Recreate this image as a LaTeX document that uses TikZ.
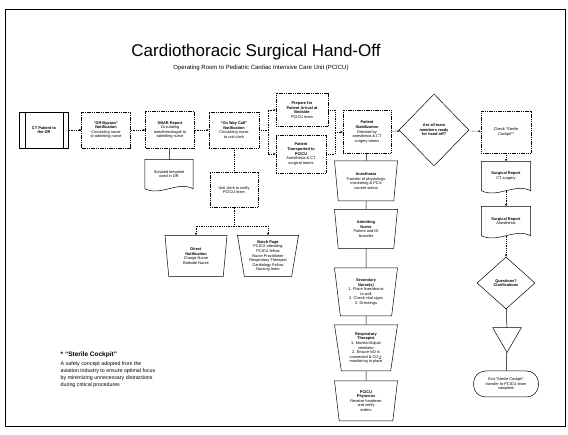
\documentclass[tikz,border=0pt]{standalone}
\usepackage{fontspec}
\setmainfont{Liberation Sans}
\usetikzlibrary{shapes.geometric,arrows.meta}
\begin{document}
\begin{tikzpicture}[x=1pt,y=-1pt,
    every node/.style={font=\fontsize{3.9}{4.6}\selectfont,align=center,inner sep=0.5pt},
    box/.style={draw,line width=0.5pt,dash pattern=on 1.2pt off 0.6pt,minimum width=49pt,minimum height=36pt},
    plainbox/.style={draw,line width=0.5pt,minimum width=49pt,minimum height=36pt},
    docbox/.style={minimum width=48pt,minimum height=29pt},
    manual/.style={draw,line width=0.5pt,trapezium,trapezium left angle=102,trapezium right angle=102,
        trapezium stretches body,minimum width=63pt,minimum height=40pt},
    decision/.style={draw,line width=0.5pt,diamond,inner sep=0pt},
    flow/.style={line width=0.4pt,dash pattern=on 1pt off 0.8pt,-{Stealth[length=2.5pt,width=2.2pt]}},
    dotline/.style={line width=0.4pt,dash pattern=on 1pt off 0.8pt},
    link/.style={line width=0.5pt}]
\useasboundingbox (0,0) rectangle (568,435);
\draw[line width=0.9pt] (5,9) rectangle (565,426);

% title
\node (title) at (256,52) {\fontsize{17}{19}\selectfont Cardiothoracic Surgical Hand-Off};
\node (subtitle) at (261,68) {\fontsize{6}{7}\selectfont Operating Room to Pediatric Cardiac Intensive Care Unit (PCICU)};

% OR side
\node[plainbox] (ct) at (44,130) {\textbf{CT Patient to}\\\textbf{the OR}};
\draw[line width=0.5pt] ([xshift=6pt]ct.north west) -- ([xshift=6pt]ct.south west)
    ([xshift=-6pt]ct.north east) -- ([xshift=-6pt]ct.south east);
\node[box] (offbyp) at (106,130) {\textbf{``Off Bypass''}\\\textbf{Notification}\\Circulating nurse\\to admitting nurse};
\node[box,minimum height=37pt] (sbar) at (170,130) {\textbf{SBAR Report}\\Circulating\\anesthesiologist to\\admitting nurse};
\node[docbox] (script) at (169,174) {Scripted template\\used in OR};
\node[box,minimum width=50pt] (tenmin) at (234,130) {\textbf{``On Way Call''}\\\textbf{Notification}\\Circulating nurse\\to unit clerk};
\node[box,minimum width=48pt,minimum height=35pt] (clerk) at (234,190) {Unit clerk to notify\\PCICU team};
\node[manual,minimum width=62pt,minimum height=41pt] (direct) at (196,256) {\textbf{Direct}\\\textbf{Notification}\\Charge Nurse\\Bedside Nurse};
\node[manual,minimum width=61pt,minimum height=41pt] (batch) at (268,256) {\textbf{Batch Page}\\PCICU attending\\PCICU fellow\\Nurse Practitioner\\Respiratory Therapist\\Cardiology Fellow\\Nursing team};
\node[box,minimum width=52pt,minimum height=33pt] (prepare) at (302,110) {\textbf{Prepare for}\\\textbf{Patient Arrival at}\\\textbf{Bedside}\\PCICU team};
\node[box,minimum width=50pt,minimum height=38pt] (transp) at (301,154) {\textbf{Patient}\\\textbf{Transported to}\\\textbf{PCICU}\\Anesthesia \& CT\\surgical teams};

% PCICU side
\node[box,minimum width=48pt,minimum height=43pt] (stab) at (367,132) {\textbf{Patient}\\\textbf{Stabilization}\\Directed by\\anesthesia \& CT\\surgery teams};
\node[decision,minimum width=70pt,minimum height=72pt] (ready) at (434,130) {\textbf{Are all team}\\\textbf{members ready}\\\textbf{for hand off?}};
\node[box,minimum width=50pt,minimum height=42pt] (check) at (506,132) {Check ``Sterile\\Cockpit''*};
\node[docbox,minimum width=49pt] (surgrep) at (506,176) {\textbf{Surgical Report}\\CT surgery};
\node[docbox,minimum width=49pt] (anesrep) at (506,221) {\textbf{Surgical Report}\\Anesthesia};
\node[decision,minimum width=58pt,minimum height=52pt] (questions) at (506,283) {\textbf{Questions?}\\\textbf{Clarifications}};
\node[draw,line width=0.5pt,regular polygon,regular polygon sides=3,shape border rotate=180,
    minimum size=33pt,inner sep=0pt] (merge) at (507,336) {};
\node[draw,line width=0.5pt,rounded corners=12pt,minimum width=65pt,minimum height=26pt] (exit) at (506,384)
    {Exit ``Sterile Cockpit''\\transfer to PCICU team\\complete};

\node[manual] (anes) at (366,181) {\textbf{Anesthesia}\\Transfer of physiologic\\monitoring \& PCIs\\current status};
\node[manual,minimum height=39pt] (admit) at (366,229) {\textbf{Admitting}\\\textbf{Nurse}\\Patient and ID\\bracelet};
\node[manual,minimum height=48pt] (second) at (366,292) {\textbf{Secondary}\\\textbf{Nurse(s)}\\1. Place lines/drains\\to wall\\2. Check vital signs\\3. Dressings};
\node[manual,minimum height=46pt] (resp) at (366,348) {\textbf{Respiratory}\\\textbf{Therapist}\\1. Monitor/Adjust\\ventilator\\2. Ensure NO is\\connected \& CO$_2$\\monitoring in place};
\node[manual] (pcicu) at (366,401) {\textbf{PCICU}\\\textbf{Physician}\\Receive handover\\and verify\\orders};

% sterile cockpit note
\node[anchor=west,font=\fontsize{6.5}{7.5}\selectfont\bfseries] (note) at (60,355) {* ``Sterile Cockpit''};
\node[anchor=north west,align=left,font=\fontsize{5.3}{7}\selectfont] (notetext) at (60,361)
    {A safety concept adopted from the\\aviation industry to ensure optimal focus\\by minimizing unnecessary distractions\\during critical procedures};

% document outlines
\foreach \n in {script,surgrep,anesrep}
  \draw[line width=0.5pt] (\n.south west) -- (\n.north west) -- (\n.north east) -- (\n.south east)
    .. controls +(-16,-8) and +(16,8) .. (\n.south west);

% connectors
\draw[flow] (ct) -- (offbyp);
\draw[flow] (offbyp) -- (sbar);
\draw[flow] (sbar) -- (tenmin);
\draw[link] (sbar) -- (script);
\draw[dotline] (tenmin) -- (clerk);
\coordinate (split) at (234,226);
\draw[dotline] (clerk) -- (split);
\draw[flow] (split) -| (direct);
\draw[flow] (split) -| (batch);
\coordinate (fork) at (268,130);
\draw[dotline] (tenmin) -- (fork);
\draw[flow] (fork) |- (prepare);
\draw[flow] (fork) |- (transp);
\coordinate (join) at (335,132);
\draw[dotline] (prepare) -| (join);
\draw[dotline] (transp) -| (join);
\draw[flow] (join) -- (stab);
\draw[flow] (stab) -- (ready);
\draw[flow] (ready) -- (check);
\draw[flow] (check) -- (surgrep);
\draw[flow] (surgrep.south) -- (anesrep);
\draw[flow] (anesrep.south) -- (questions);
\draw[link] (questions) -- (merge);
\draw[link] (merge) -- (exit);
\draw[link] (stab) -- (anes);
\draw[link] (anes) -- (admit);
\draw[link] (admit) -- (second);
\draw[link] (second) -- (resp);
\draw[link] (resp) -- (pcicu);
\end{tikzpicture}
\end{document}
